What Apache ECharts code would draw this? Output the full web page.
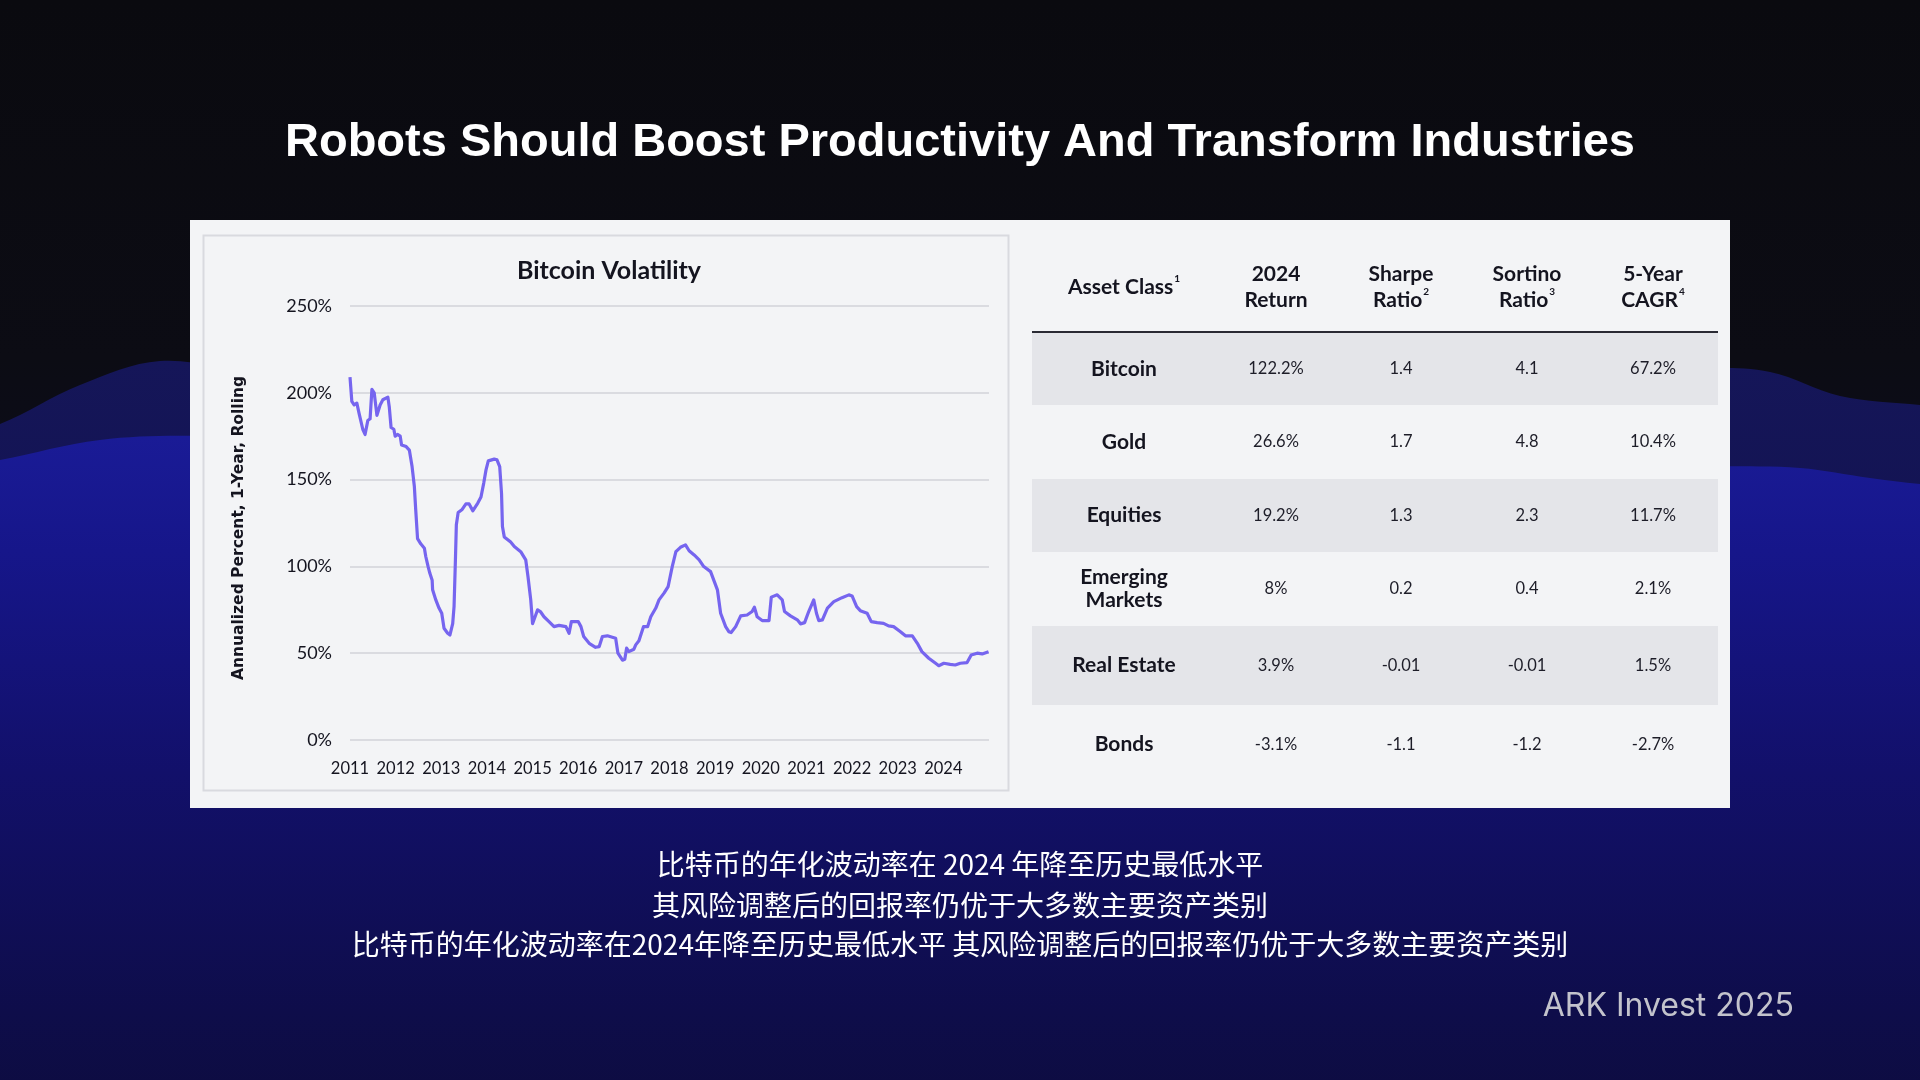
<!DOCTYPE html>
<html>
<head>
<meta charset="utf-8">
<style>
html,body{margin:0;padding:0;background:#0b0b10;overflow:hidden;}
#c{width:1920px;height:1080px;}
</style>
<script src="https://cdn.jsdelivr.net/npm/echarts@6/dist/echarts.min.js"></script>
</head>
<body>
<div id="c"></div>
<script>
// ---------- texts ----------
const PAGE_TITLE = 'Robots Should Boost Productivity And Transform Industries';
const CHART_TITLE = 'Bitcoin Volatility';
const Y_AXIS_NAME = 'Annualized Percent, 1-Year, Rolling';
const SUBTITLE_LINES = [
  '比特币的年化波动率在 2024 年降至历史最低水平',
  '其风险调整后的回报率仍优于大多数主要资产类别',
  '比特币的年化波动率在2024年降至历史最低水平 其风险调整后的回报率仍优于大多数主要资产类别'
];
const SOURCE = 'ARK Invest 2025';

// ---------- chart data (decimal year, annualized volatility %) ----------
const volDates = [
  2011.00,2011.04,2011.09,2011.15,2011.20,2011.28,2011.33,2011.39,2011.44,2011.48,
  2011.53,2011.59,2011.66,2011.72,2011.83,2011.86,2011.90,2011.96,2011.99,2012.04,
  2012.10,2012.13,2012.23,2012.30,2012.36,2012.41,2012.44,2012.48,2012.55,2012.63,
  2012.66,2012.71,2012.75,2012.80,2012.81,2012.88,2012.95,2013.01,2013.06,2013.14,
  2013.19,2013.25,2013.28,2013.31,2013.33,2013.37,2013.45,2013.54,2013.61,2013.69,
  2013.80,2013.87,2013.93,2013.98,2014.03,2014.16,2014.22,2014.28,2014.32,2014.34,
  2014.38,2014.52,2014.60,2014.74,2014.85,2014.90,2014.96,2015.00,2015.03,2015.11,
  2015.17,2015.25,2015.36,2015.47,2015.58,2015.73,2015.80,2015.85,2016.00,2016.06,
  2016.12,2016.24,2016.38,2016.46,2016.53,2016.64,2016.82,2016.87,2016.97,2017.02,
  2017.06,2017.11,2017.22,2017.26,2017.33,2017.43,2017.52,2017.59,2017.70,2017.77,
  2017.88,2017.97,2018.06,2018.14,2018.24,2018.35,2018.43,2018.54,2018.65,2018.75,
  2018.90,2019.05,2019.12,2019.23,2019.30,2019.35,2019.45,2019.56,2019.70,2019.81,
  2019.86,2019.92,2020.03,2020.18,2020.23,2020.36,2020.47,2020.52,2020.65,2020.80,
  2020.87,2020.96,2021.05,2021.16,2021.22,2021.27,2021.35,2021.46,2021.60,2021.78,
  2021.93,2022.00,2022.10,2022.18,2022.33,2022.42,2022.55,2022.69,2022.80,2022.91,
  2023.06,2023.17,2023.32,2023.43,2023.53,2023.68,2023.83,2023.90,2024.01,2024.15,
  2024.26,2024.37,2024.52,2024.61,2024.74,2024.85,2024.99
];
const volValues = [
  209,195,193,194,188,179,176,184,185,202,
  200,187,193,196,197.5,192,180,179,175,176,
  175,170,169,167,157.5,146,132.6,116,113,110.5,
  105.7,100,96,92,86.5,80.7,76,73,64.4,61.5,
  60.5,67,77,104,124,131,132.6,136,136,132,
  136.5,140,148,155.6,160.8,161.8,161.4,157.5,142,123,
  117,114,111.4,108.5,103.8,94,80.7,67,66.3,75,
  74,71,68.2,65.3,66,65.3,61.5,68.2,68.2,65.3,
  59.6,55.7,53.4,53.8,59.6,60,58.6,50,46,46.5,
  52.9,50.9,52.3,54.8,57.2,65.3,65.3,71,76,80.7,
  84.6,88.4,99.9,108.5,111,112.4,109,106.6,103.8,99.9,
  97,86.5,73,65.3,62.4,61.9,65.3,71.5,72,74,
  76.5,71,68.8,68.8,82.3,83.6,80.7,74,71.5,69.2,
  66.9,67.6,74,80.7,73,68.8,69.2,76,79.7,82,
  83.6,83,76.8,74.5,73,68.2,67.6,67.2,65.7,65.3,
  62.4,60,60,55.7,50.9,47.1,44.2,42.8,44.2,43.6,
  43.2,44.2,44.6,49,50,49.6,50.9
];
const yearFirst = 2011;
const yearLast = 2024;
const yTicks = [0, 50, 100, 150, 200, 250];

// ---------- table data ----------
const tableHeaders = [
  'Asset Class{sup|1}',
  '2024\nReturn',
  'Sharpe\nRatio{sup|2}',
  'Sortino\nRatio{sup|3}',
  '5-Year\nCAGR{sup|4}'
];
const assetClasses = ['Bitcoin', 'Gold', 'Equities', 'Emerging\nMarkets', 'Real Estate', 'Bonds'];
const return2024 = ['122.2%', '26.6%', '19.2%', '8%', '3.9%', '-3.1%'];
const sharpeRatio = ['1.4', '1.7', '1.3', '0.2', '-0.01', '-1.1'];
const sortinoRatio = ['4.1', '4.8', '2.3', '0.4', '-0.01', '-1.2'];
const cagr5y = ['67.2%', '10.4%', '11.7%', '2.1%', '1.5%', '-2.7%'];

// ---------- layout ----------
const colX = [1124, 1276, 1401, 1527, 1653];
const rowEdges = [333, 405, 479, 552, 626, 705, 784];
const tableLeft = 1032, tableRight = 1718;
const FONT = 'Lato, "Open Sans", sans-serif';

const chart = echarts.init(document.getElementById('c'), null, {renderer: 'canvas', width: 1920, height: 1080});

const graphics = [];
// background
graphics.push({
  type: 'rect', z: -40, silent: true,
  shape: {x: 0, y: 0, width: 1920, height: 1080},
  style: {fill: {type: 'linear', x: 0, y: 0, x2: 0, y2: 1, colorStops: [
    {offset: 0, color: '#0a0a0f'}, {offset: 0.33, color: '#0c0c14'}, {offset: 1, color: '#0c0b32'}]}}
});
graphics.push({
  type: 'polygon', z: -39, silent: true,
  shape: {smooth: 0.35, points: [[-60, 440], [0, 424], [80, 385], [160, 361], [260, 372], [960, 380], [1700, 368], [1770, 372], [1840, 396], [1920, 405], [1990, 410], [1990, 1250], [-60, 1250]]},
  style: {fill: {type: 'linear', x: 0, y: 0, x2: 0, y2: 1, colorStops: [
    {offset: 0, color: '#151659'}, {offset: 0.4, color: '#100f48'}, {offset: 1, color: '#0b0a30'}]}}
});
graphics.push({
  type: 'polygon', z: -38, silent: true,
  shape: {smooth: 0.35, points: [[-60, 470], [0, 460], [100, 440], [200, 436], [960, 450], [1720, 466], [1800, 468], [1870, 478], [1920, 484], [1990, 490], [1990, 1250], [-60, 1250]]},
  style: {fill: {type: 'linear', x: 0, y: 0, x2: 0, y2: 1, colorStops: [
    {offset: 0, color: '#1a1b96'}, {offset: 0.12, color: '#16168a'}, {offset: 0.35, color: '#12106a'},
    {offset: 0.6, color: '#0e0d4a'}, {offset: 0.8, color: '#0c0b36'}, {offset: 1, color: '#0b0a30'}]}}
});
// page title
graphics.push({
  type: 'text', z: 10, x: 960, y: 143,
  style: {text: PAGE_TITLE, fill: '#ffffff', font: 'bold 47px "Liberation Sans", Arial, sans-serif', align: 'center', verticalAlign: 'middle'}
});
// panel
graphics.push({type: 'rect', z: -20, silent: true, shape: {x: 190, y: 220, width: 1540, height: 588}, style: {fill: '#f3f4f6'}});
graphics.push({type: 'rect', z: -19, silent: true, shape: {x: 203.5, y: 235.5, width: 805, height: 555}, style: {fill: '#f3f4f6', stroke: '#d9dadf', lineWidth: 2}});
// chart title and y name
graphics.push({type: 'text', z: 10, x: 609, y: 271, style: {text: CHART_TITLE, fill: '#14141f', font: 'bold 25px ' + FONT, align: 'center', verticalAlign: 'middle'}});
graphics.push({type: 'text', z: 10, x: 239, y: 528, rotation: Math.PI / 2, style: {text: Y_AXIS_NAME, fill: '#14141f', font: 'bold 15.5px "DejaVu Sans", sans-serif', align: 'center', verticalAlign: 'middle'}});
// table shading
assetClasses.forEach((a, i) => {
  if (i % 2 === 0) {
    graphics.push({type: 'rect', z: -10, silent: true, shape: {x: tableLeft, y: rowEdges[i], width: tableRight - tableLeft, height: rowEdges[i + 1] - rowEdges[i]}, style: {fill: '#e4e5e9'}});
  }
});
graphics.push({type: 'line', z: 5, silent: true, shape: {x1: tableLeft, y1: 332, x2: tableRight, y2: 332}, style: {stroke: '#2a2a33', lineWidth: 2}});
// headers
tableHeaders.forEach((h, i) => {
  graphics.push({type: 'text', z: 10, x: colX[i], y: 287, style: {
    text: h, fill: '#14141f', font: 'bold 21px ' + FONT, align: 'center', verticalAlign: 'middle', lineHeight: 26,
    rich: {sup: {fontSize: 10, fontWeight: 'bold', fontFamily: 'Lato', fill: '#14141f', verticalAlign: 'top', lineHeight: 26, padding: [0, 0, 12, 1]}}
  }});
});
// rows
const cols = [return2024, sharpeRatio, sortinoRatio, cagr5y];
assetClasses.forEach((a, i) => {
  const cy = (rowEdges[i] + rowEdges[i + 1]) / 2;
  graphics.push({type: 'text', z: 10, x: colX[0], y: cy, style: {text: a, fill: '#14141f', font: 'bold 21px ' + FONT, align: 'center', verticalAlign: 'middle', lineHeight: 23}});
  cols.forEach((col, j) => {
    graphics.push({type: 'text', z: 10, x: colX[j + 1], y: cy, style: {text: col[i], fill: '#1d1d28', font: '16.5px ' + FONT, align: 'center', verticalAlign: 'middle'}});
  });
});
// subtitles
const subY = [864, 905, 944];
SUBTITLE_LINES.forEach((t, i) => {
  graphics.push({type: 'text', z: 10, x: 960, y: subY[i], style: {text: t, fill: '#ffffff', font: '28px "Noto Sans CJK SC", sans-serif', align: 'center', verticalAlign: 'middle'}});
});
graphics.push({type: 'text', z: 10, x: 1794, y: 1006, style: {text: SOURCE, fill: '#c3c3cc', font: '32px Inter, Roboto, sans-serif', align: 'right', verticalAlign: 'middle'}});

const option = {
  backgroundColor: 'transparent',
  animation: false,
  grid: {left: 350, right: 1920 - 989, top: 306, bottom: 1080 - 740, containLabel: false},
  xAxis: {
    type: 'value', min: yearFirst, max: yearLast + 1, interval: 1,
    axisLine: {show: false}, axisTick: {show: false}, splitLine: {show: false},
    axisLabel: {
      color: '#14141f', fontSize: 16.5, fontFamily: 'Lato', margin: 20,
      formatter: v => (v >= yearFirst && v <= yearLast) ? String(v) : ''
    }
  },
  yAxis: {
    type: 'value', min: yTicks[0], max: yTicks[yTicks.length - 1], interval: 50,
    axisLine: {show: false}, axisTick: {show: false},
    splitLine: {show: true, lineStyle: {color: '#d2d3d8', width: 1.5}},
    axisLabel: {color: '#14141f', fontSize: 18, fontFamily: 'Lato', margin: 18, formatter: '{value}%'}
  },
  series: [{
    type: 'line', z: 3,
    data: volDates.map((d, i) => [d, volValues[i]]),
    showSymbol: false, symbol: 'none',
    lineStyle: {color: '#7665ef', width: 3.2, join: 'round'}
  }],
  graphic: {elements: graphics}
};
chart.setOption(option);
</script>
</body>
</html>
